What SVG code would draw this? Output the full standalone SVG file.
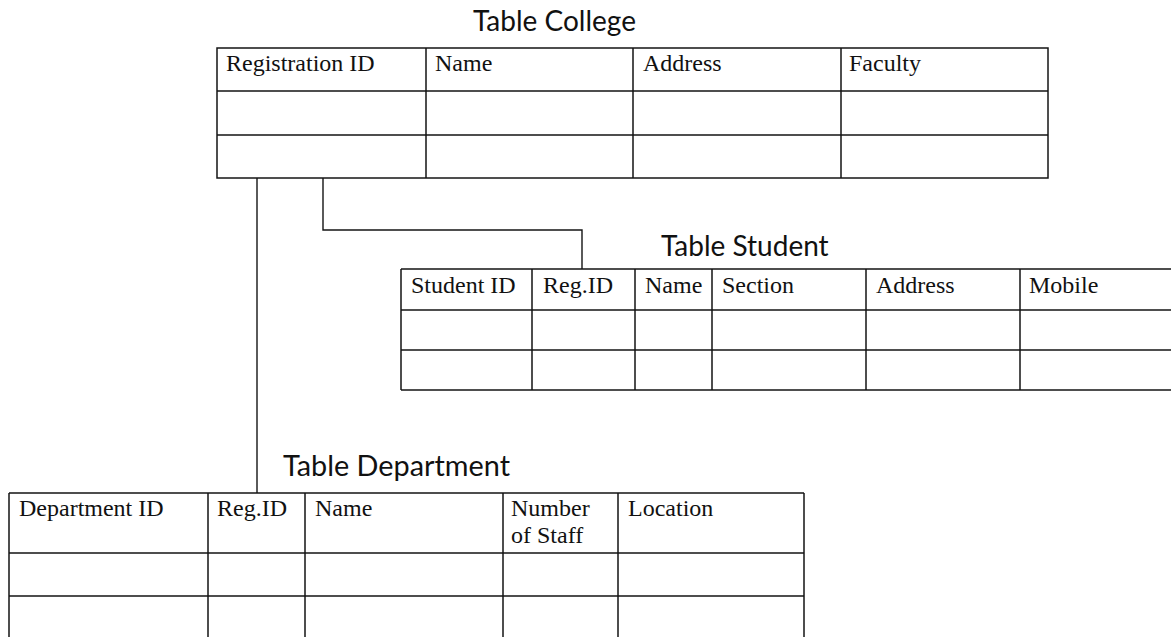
<svg xmlns="http://www.w3.org/2000/svg" width="1171" height="637" viewBox="0 0 1171 637">
  <style>
    .grid { stroke: #141414; stroke-width: 1.5; fill: none; }
    .conn { stroke: #141414; stroke-width: 1.4; fill: none; }
    .title { font-family: Lato, "Open Sans", sans-serif; font-size: 28px; fill: #111; }
    .cell { font-family: "Liberation Serif", "Times New Roman", serif; font-size: 24px; fill: #111; }
  </style>
  <rect width="1171" height="637" fill="#ffffff"/>

  <g id="connectors">
    <path class="conn" d="M257,178 V493"/>
    <path class="conn" d="M323,178 V230 H582 V269"/>
  </g>

  <g id="table-college">
    <text class="title" x="473" y="31">Table College</text>
    <rect class="grid" x="217" y="48" width="831" height="130"/>
    <path class="grid" d="M217,91 H1048 M217,135 H1048 M426,48 V178 M633,48 V178 M841,48 V178"/>
    <text class="cell" x="226" y="71">Registration ID</text>
    <text class="cell" x="435" y="71">Name</text>
    <text class="cell" x="643" y="71">Address</text>
    <text class="cell" x="849" y="71">Faculty</text>
  </g>

  <g id="table-student">
    <text class="title" x="661" y="256">Table Student</text>
    <path class="grid" d="M401,269 H1171 M401,310 H1171 M401,350 H1171 M401,390 H1171 M401,269 V390 M532,269 V390 M635,269 V390 M712,269 V390 M866,269 V390 M1020,269 V390"/>
    <text class="cell" x="411" y="293">Student ID</text>
    <text class="cell" x="543" y="293">Reg.ID</text>
    <text class="cell" x="645" y="293">Name</text>
    <text class="cell" x="722" y="293">Section</text>
    <text class="cell" x="876" y="293">Address</text>
    <text class="cell" x="1029" y="293">Mobile</text>
  </g>

  <g id="table-department">
    <text class="title" x="283" y="476" textLength="227" lengthAdjust="spacingAndGlyphs">Table Department</text>
    <path class="grid" d="M9,493 H804 M9,553 H804 M9,596 H804 M9,493 V637 M208,493 V637 M305,493 V637 M503,493 V637 M618,493 V637 M804,493 V637"/>
    <text class="cell" x="19" y="516">Department ID</text>
    <text class="cell" x="217" y="516">Reg.ID</text>
    <text class="cell" x="315" y="516">Name</text>
    <text class="cell" x="511" y="516">Number</text>
    <text class="cell" x="511" y="543">of Staff</text>
    <text class="cell" x="628" y="516">Location</text>
  </g>
</svg>
